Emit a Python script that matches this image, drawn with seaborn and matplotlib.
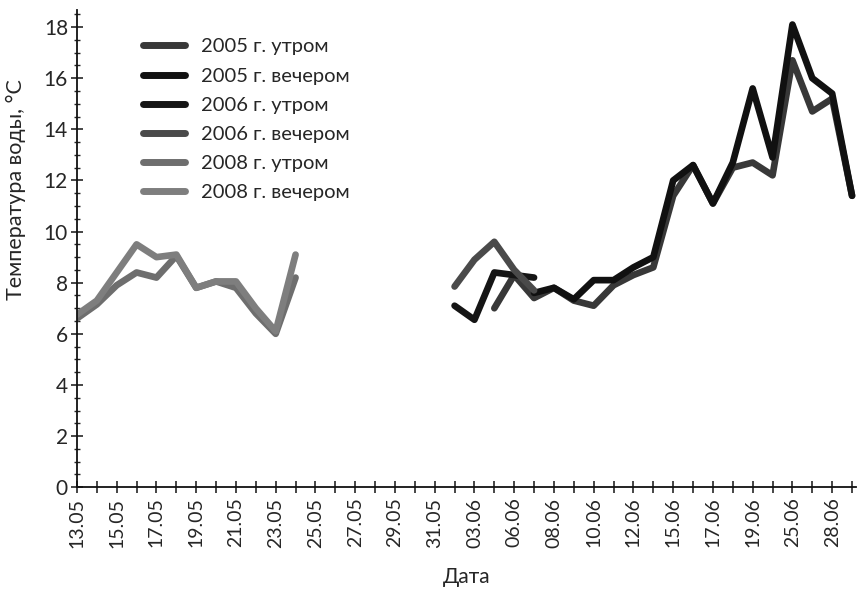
import numpy as np
import pandas as pd
import matplotlib
matplotlib.use("Agg")
import matplotlib.pyplot as plt
from matplotlib.ticker import MultipleLocator
import seaborn as sns

# Date categories on the x axis (only every second one is labelled)
dates = [
    '13.05', '14.05', '15.05', '16.05', '17.05', '18.05', '19.05', '20.05',
    '21.05', '22.05', '23.05', '24.05', '25.05', '26.05', '27.05', '28.05',
    '29.05', '30.05', '31.05', '01.06', '03.06', '04.06', '06.06', '07.06',
    '08.06', '09.06', '10.06', '11.06', '12.06', '14.06', '15.06', '16.06',
    '17.06', '18.06', '19.06', '20.06', '25.06', '26.06', '28.06', '29.06',
]

series_names = [
    '2005 г. утром', '2005 г. вечером', '2006 г. утром',
    '2006 г. вечером', '2008 г. утром', '2008 г. вечером',
]

# water temperature, one value per date (None = no measurement)
t2005_morning = [None] * 21 + [7.0, 8.3, 7.4, 7.8, 7.3, 7.1, 7.9, 8.3, 8.6,
                               11.4, 12.6, 11.1, 12.5, 12.7, 12.2, 16.7, 14.7, 15.2, 11.4]
t2005_evening = [None] * 23 + [7.6, 7.8, 7.35, 8.1, 8.1, 8.6, 9.0,
                               12.0, 12.6, 11.1, 12.7, 15.6, 12.9, 18.1, 16.0, 15.4, 11.4]
t2006_morning = [None] * 19 + [7.1, 6.55, 8.4, 8.3, 8.2] + [None] * 16
t2006_evening = [None] * 19 + [7.85, 8.9, 9.6, 8.5, 7.7] + [None] * 16
t2008_morning = [6.6, 7.15, 7.9, 8.4, 8.2, 9.05, 7.8, 8.05, 7.8, 6.8, 6.0, 8.2] + [None] * 28
t2008_evening = [6.75, 7.3, 8.4, 9.5, 9.0, 9.1, 7.8, 8.05, 8.05, 7.0, 6.1, 9.1] + [None] * 28

colors = ['#383838', '#111111', '#151515', '#4a4a4a', '#6e6e6e', '#7e7e7e']


def build_frame():
    """Long-form table: one row per (date, series) measurement"""
    values = [t2005_morning, t2005_evening, t2006_morning,
              t2006_evening, t2008_morning, t2008_evening]
    rows = []
    for name, vals in zip(series_names, values):
        for i, v in enumerate(vals):
            if v is not None:
                rows.append({'pos': i, 'date': dates[i], 'temp': v, 'series': name})
    return pd.DataFrame(rows)


def main():
    df = build_frame()

    sns.set_style('ticks')
    plt.rcParams['font.family'] = ['Lato', 'DejaVu Sans']

    fig = plt.figure(figsize=(8.58, 6.0), dpi=100)
    ax = fig.add_axes([0.0897, 0.188, 0.908, 0.795])

    sns.lineplot(data=df, x='pos', y='temp', hue='series', hue_order=series_names,
                 palette=dict(zip(series_names, colors)), linewidth=4.8,
                 estimator=None, sort=True, ax=ax,
                 solid_capstyle='round', solid_joinstyle='round')

    ax.set_xlim(0, 39.2)
    ax.set_ylim(0, 18.66)

    ax.set_xticks(range(len(dates)))
    ax.set_xticklabels([d if i % 2 == 0 else '' for i, d in enumerate(dates)],
                       rotation=90, fontsize=14)
    ax.yaxis.set_major_locator(MultipleLocator(2))
    ax.yaxis.set_minor_locator(MultipleLocator(0.5))
    ax.tick_params(axis='y', which='major', labelsize=15, direction='inout',
                   length=9, width=1.2, pad=2)
    ax.tick_params(axis='y', which='minor', direction='inout', length=5, width=1)
    ax.tick_params(axis='x', which='major', direction='inout', length=9, width=1.2, pad=3)

    sns.despine(ax=ax)
    for side in ('left', 'bottom'):
        ax.spines[side].set_linewidth(1.3)
        ax.spines[side].set_color('#111111')

    ax.set_xlabel('Дата', fontsize=15, labelpad=14)
    ax.set_ylabel('Температура воды, °С', fontsize=15.5)
    ax.yaxis.set_label_coords(-0.066, 0.625)

    leg = ax.legend(loc='upper left', bbox_to_anchor=(0.072, 0.962), frameon=False,
                    fontsize=14.5, handlelength=2.1, handletextpad=0.75,
                    labelspacing=0.6, borderpad=0)
    for line in leg.get_lines():
        line.set_linewidth(5)

    fig.savefig('out.png', dpi=100, facecolor='white')
    plt.close(fig)


if __name__ == '__main__':
    main()
